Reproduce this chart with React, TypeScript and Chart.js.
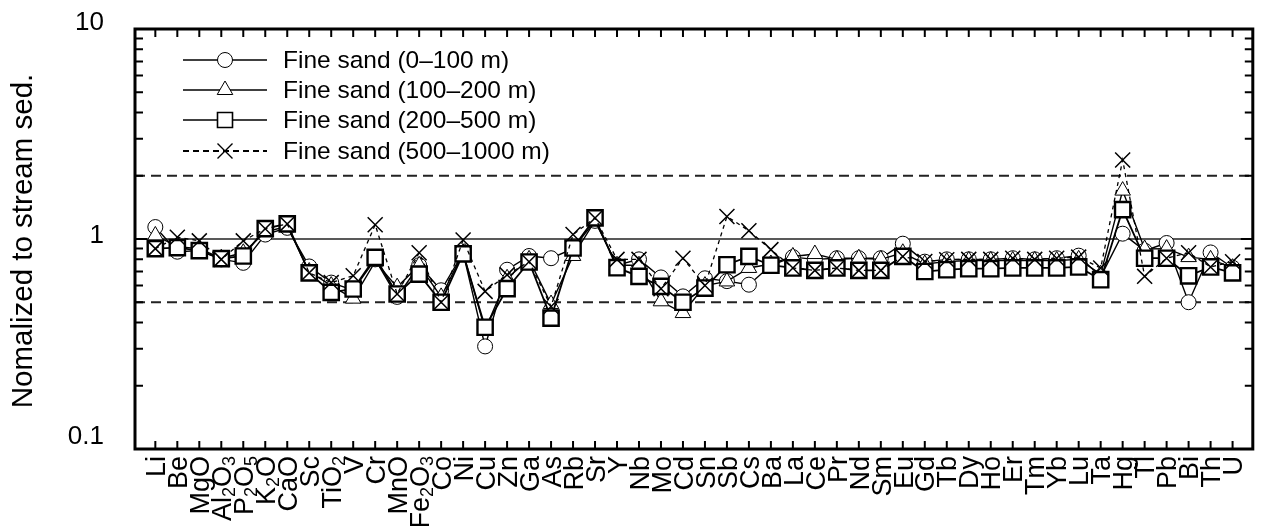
import React, { useEffect, useRef } from "react";
import { Chart, registerables } from "chart.js";

Chart.register(...registerables);

// ---- data ----
// "_" marks the following character as a subscript
const categories = [
  "Li", "Be", "MgO", "Al_2O_3", "P_2O_5", "K_2O", "CaO", "Sc", "TiO_2", "V",
  "Cr", "MnO", "Fe_2O_3", "Co", "Ni", "Cu", "Zn", "Ga", "As", "Rb",
  "Sr", "Y", "Nb", "Mo", "Cd", "Sn", "Sb", "Cs", "Ba", "La",
  "Ce", "Pr", "Nd", "Sm", "Eu", "Gd", "Tb", "Dy", "Ho", "Er",
  "Tm", "Yb", "Lu", "Ta", "Hg", "Tl", "Pb", "Bi", "Th", "U",
];

const sand0to100 = [
  1.14, 0.87, 0.88, 0.80, 0.77, 1.05, 1.13, 0.74, 0.62, 0.57,
  0.80, 0.53, 0.75, 0.57, 0.86, 0.308, 0.714, 0.83, 0.81, 0.90,
  1.22, 0.75, 0.80, 0.656, 0.533, 0.65, 0.63, 0.606, 0.75, 0.82,
  0.80, 0.81, 0.81, 0.81, 0.95, 0.78, 0.80, 0.80, 0.80, 0.81,
  0.80, 0.81, 0.833, 0.66, 1.06, 0.88, 0.957, 0.50, 0.863, 0.73,
];
const sand100to200 = [
  1.04, 0.92, 0.90, 0.81, 0.86, 1.08, 1.15, 0.70, 0.60, 0.52,
  0.78, 0.59, 0.75, 0.53, 0.86, 0.37, 0.65, 0.80, 0.49, 0.83,
  1.22, 0.75, 0.75, 0.505, 0.444, 0.60, 0.628, 0.728, 0.76, 0.826,
  0.848, 0.80, 0.81, 0.80, 0.86, 0.76, 0.78, 0.79, 0.79, 0.79,
  0.79, 0.79, 0.80, 0.68, 1.70, 0.896, 0.90, 0.82, 0.80, 0.73,
];
const sand200to500 = [
  0.90, 0.91, 0.88, 0.806, 0.83, 1.12, 1.18, 0.69, 0.557, 0.578,
  0.817, 0.547, 0.68, 0.50, 0.85, 0.38, 0.58, 0.777, 0.42, 0.906,
  1.26, 0.73, 0.664, 0.595, 0.50, 0.584, 0.754, 0.826, 0.75, 0.728,
  0.709, 0.728, 0.709, 0.709, 0.826, 0.70, 0.714, 0.722, 0.722, 0.728,
  0.728, 0.728, 0.736, 0.64, 1.38, 0.81, 0.81, 0.668, 0.736, 0.69,
];
const sand500to1000 = [
  0.90, 1.02, 0.98, 0.80, 0.98, 1.12, 1.18, 0.69, 0.62, 0.668,
  1.17, 0.547, 0.86, 0.50, 0.99, 0.563, 0.675, 0.78, 0.477, 1.05,
  1.26, 0.80, 0.80, 0.58, 0.81, 0.60, 1.28, 1.095, 0.89, 0.728,
  0.709, 0.728, 0.709, 0.709, 0.826, 0.782, 0.797, 0.80, 0.80, 0.81,
  0.80, 0.81, 0.82, 0.727, 2.38, 0.664, 0.81, 0.86, 0.736, 0.78,
];

const seriesLabels = [
  "Fine sand (0\u2013100 m)",
  "Fine sand (100\u2013200 m)",
  "Fine sand (200\u2013500 m)",
  "Fine sand (500\u20131000 m)",
];

const yTickValues = [0.1, 1, 10];
const yTickLabels = ["0.1", "1", "10"];
const yMinorValues = [0.2, 0.3, 0.4, 0.5, 0.6, 0.7, 0.8, 0.9, 2, 3, 4, 5, 6, 7, 8, 9];
const refSolid = [1];
const refDashed = [2, 0.5];
const yTitle = "Nomalized to stream sed.";

// ---- styles ----
const FONT = '"Liberation Sans", Arial, Helvetica, sans-serif';
const W = 1266;
const H = 526;

type Seg = { t: string; sub: boolean };
function parseLabel(s: string): Seg[] {
  const out: Seg[] = [];
  for (let i = 0; i < s.length; i++) {
    if (s[i] === "_" && i + 1 < s.length) {
      out.push({ t: s[i + 1], sub: true });
      i++;
    } else {
      const last = out[out.length - 1];
      if (last && !last.sub) last.t += s[i];
      else out.push({ t: s[i], sub: false });
    }
  }
  return out;
}

function drawMarker(ctx: CanvasRenderingContext2D, style: string, x: number, y: number) {
  ctx.save();
  ctx.strokeStyle = "#000";
  ctx.fillStyle = "#fff";
  ctx.beginPath();
  if (style === "circle") {
    ctx.lineWidth = 1;
    ctx.arc(x, y, 7.5, 0, Math.PI * 2);
    ctx.fill();
    ctx.stroke();
  } else if (style === "triangle") {
    ctx.lineWidth = 1;
    const r = 9;
    ctx.moveTo(x, y - r);
    ctx.lineTo(x + r * Math.sin((2 * Math.PI) / 3), y + r / 2);
    ctx.lineTo(x - r * Math.sin((2 * Math.PI) / 3), y + r / 2);
    ctx.closePath();
    ctx.fill();
    ctx.stroke();
  } else if (style === "rect") {
    ctx.lineWidth = 1.6;
    ctx.rect(x - 7.5, y - 7.5, 15, 15);
    ctx.fill();
    ctx.stroke();
  } else {
    ctx.lineWidth = 1.4;
    ctx.moveTo(x - 7.5, y - 7.5);
    ctx.lineTo(x + 7.5, y + 7.5);
    ctx.moveTo(x + 7.5, y - 7.5);
    ctx.lineTo(x - 7.5, y + 7.5);
    ctx.stroke();
  }
  ctx.restore();
}

const decorPlugin = {
  id: "decor",
  beforeDatasetsDraw(chart: any) {
    const { ctx, chartArea: a, scales } = chart;
    const ys = scales.y;
    ctx.save();
    ctx.strokeStyle = "#222";
    ctx.lineWidth = 1.6;
    refSolid.forEach((v) => {
      const py = ys.getPixelForValue(v);
      ctx.beginPath();
      ctx.moveTo(a.left, py);
      ctx.lineTo(a.right, py);
      ctx.stroke();
    });
    ctx.lineWidth = 2;
    ctx.setLineDash([10, 6]);
    refDashed.forEach((v) => {
      const py = ys.getPixelForValue(v);
      ctx.beginPath();
      ctx.moveTo(a.left, py);
      ctx.lineTo(a.right, py);
      ctx.stroke();
    });
    ctx.restore();
  },
  afterDraw(chart: any) {
    const { ctx, chartArea: a, scales } = chart;
    const xs = scales.x;
    const ys = scales.y;
    ctx.save();
    ctx.strokeStyle = "#000";
    ctx.fillStyle = "#000";

    // ticks (inward)
    ctx.lineWidth = 2;
    categories.forEach((_, i) => {
      const px = xs.getPixelForValue(i);
      ctx.beginPath();
      ctx.moveTo(px, a.bottom);
      ctx.lineTo(px, a.bottom - 8);
      ctx.moveTo(px, a.top);
      ctx.lineTo(px, a.top + 8);
      ctx.stroke();
    });
    const yTick = (v: number, len: number) => {
      const py = ys.getPixelForValue(v);
      ctx.beginPath();
      ctx.moveTo(a.left, py);
      ctx.lineTo(a.left + len, py);
      ctx.moveTo(a.right, py);
      ctx.lineTo(a.right - len, py);
      ctx.stroke();
    };
    yTickValues.forEach((v) => yTick(v, 12));
    yMinorValues.forEach((v) => yTick(v, 8));

    // frame
    ctx.lineWidth = 3;
    ctx.strokeRect(a.left, a.top, a.right - a.left, a.bottom - a.top);

    // y tick labels
    ctx.font = `26px ${FONT}`;
    ctx.textAlign = "right";
    ctx.textBaseline = "middle";
    const nudges = [-12, -3, -6];
    yTickValues.forEach((v, i) => {
      const py = ys.getPixelForValue(v);
      ctx.fillText(yTickLabels[i], 104, py + nudges[i]);
    });

    // y title
    ctx.save();
    ctx.font = `29.5px ${FONT}`;
    ctx.textAlign = "center";
    ctx.textBaseline = "middle";
    ctx.translate(24, (a.top + a.bottom) / 2 + 2);
    ctx.rotate(-Math.PI / 2);
    ctx.fillText(yTitle, 0, 0);
    ctx.restore();

    // x labels (rotated, with subscripts)
    const mainFont = `27px ${FONT}`;
    const subFont = `18px ${FONT}`;
    categories.forEach((c, i) => {
      const segs = parseLabel(c);
      let total = 0;
      const widths = segs.map((s) => {
        ctx.font = s.sub ? subFont : mainFont;
        const w = ctx.measureText(s.t).width;
        total += w;
        return w;
      });
      const px = xs.getPixelForValue(i);
      ctx.save();
      ctx.translate(px, a.bottom + 7);
      ctx.rotate(-Math.PI / 2);
      ctx.textAlign = "left";
      ctx.textBaseline = "alphabetic";
      let cx = -total;
      segs.forEach((s, k) => {
        ctx.font = s.sub ? subFont : mainFont;
        ctx.fillText(s.t, cx, s.sub ? 14 : 9.7);
        cx += widths[k];
      });
      ctx.restore();
    });

    // legend
    const styles = ["circle", "triangle", "rect", "crossRot"];
    const rows = [60, 90, 120, 151];
    ctx.font = `24.5px ${FONT}`;
    ctx.textAlign = "left";
    ctx.textBaseline = "middle";
    seriesLabels.forEach((lab, i) => {
      const yy = rows[i];
      ctx.save();
      ctx.strokeStyle = "#000";
      ctx.lineWidth = i === 3 ? 2 : 1.5;
      if (i === 3) ctx.setLineDash([6, 4]);
      ctx.beginPath();
      ctx.moveTo(183, yy);
      ctx.lineTo(267, yy);
      ctx.stroke();
      ctx.restore();
      drawMarker(ctx, styles[i], 225, yy);
      ctx.fillStyle = "#000";
      ctx.fillText(lab, 283, yy + 1);
    });

    ctx.restore();
  },
};

export default function App() {
  const ref = useRef<HTMLCanvasElement | null>(null);

  useEffect(() => {
    document.body.style.margin = "0";
    const canvas = ref.current;
    if (!canvas) return;
    const mk = (vals: number[]) => vals.map((v, i) => ({ x: i, y: v }));
    const chart = new Chart(canvas, {
      type: "line",
      data: {
        datasets: [
          {
            label: seriesLabels[0],
            data: mk(sand0to100),
            borderColor: "#000",
            borderWidth: 1.4,
            pointStyle: "circle",
            pointRadius: 7.5,
            pointBackgroundColor: "#fff",
            pointBorderColor: "#000",
            pointBorderWidth: 1,
            order: 4,
          },
          {
            label: seriesLabels[1],
            data: mk(sand100to200),
            borderColor: "#000",
            borderWidth: 1.4,
            pointStyle: "triangle",
            pointRadius: 9,
            pointBackgroundColor: "#fff",
            pointBorderColor: "#000",
            pointBorderWidth: 1,
            order: 3,
          },
          {
            label: seriesLabels[2],
            data: mk(sand200to500),
            borderColor: "#000",
            borderWidth: 1.8,
            pointStyle: "rect",
            pointRadius: 10.8,
            pointBackgroundColor: "#fff",
            pointBorderColor: "#000",
            pointBorderWidth: 2.4,
            order: 2,
          },
          {
            label: seriesLabels[3],
            data: mk(sand500to1000),
            borderColor: "#000",
            borderWidth: 1.3,
            borderDash: [4, 4],
            pointStyle: "crossRot",
            pointRadius: 10.6,
            pointBackgroundColor: "#fff",
            pointBorderColor: "#000",
            pointBorderWidth: 1.5,
            order: 1,
          },
        ] as any,
      },
      options: {
        responsive: false,
        animation: false,
        devicePixelRatio: 1,
        events: [],
        layout: { padding: { left: 135, right: 5, top: 29, bottom: 77 } },
        plugins: { legend: { display: false }, tooltip: { enabled: false } },
        elements: { line: { tension: 0 } },
        scales: {
          x: { type: "linear", min: -0.925, max: 49.92, display: false },
          y: { type: "logarithmic", min: 0.1, max: 10, display: false },
        },
      },
      plugins: [decorPlugin],
    });
    return () => chart.destroy();
  }, []);

  return (
    <div style={{ width: W, height: H, background: "#fff" }}>
      <canvas ref={ref} width={W} height={H} style={{ display: "block" }} />
    </div>
  );
}
